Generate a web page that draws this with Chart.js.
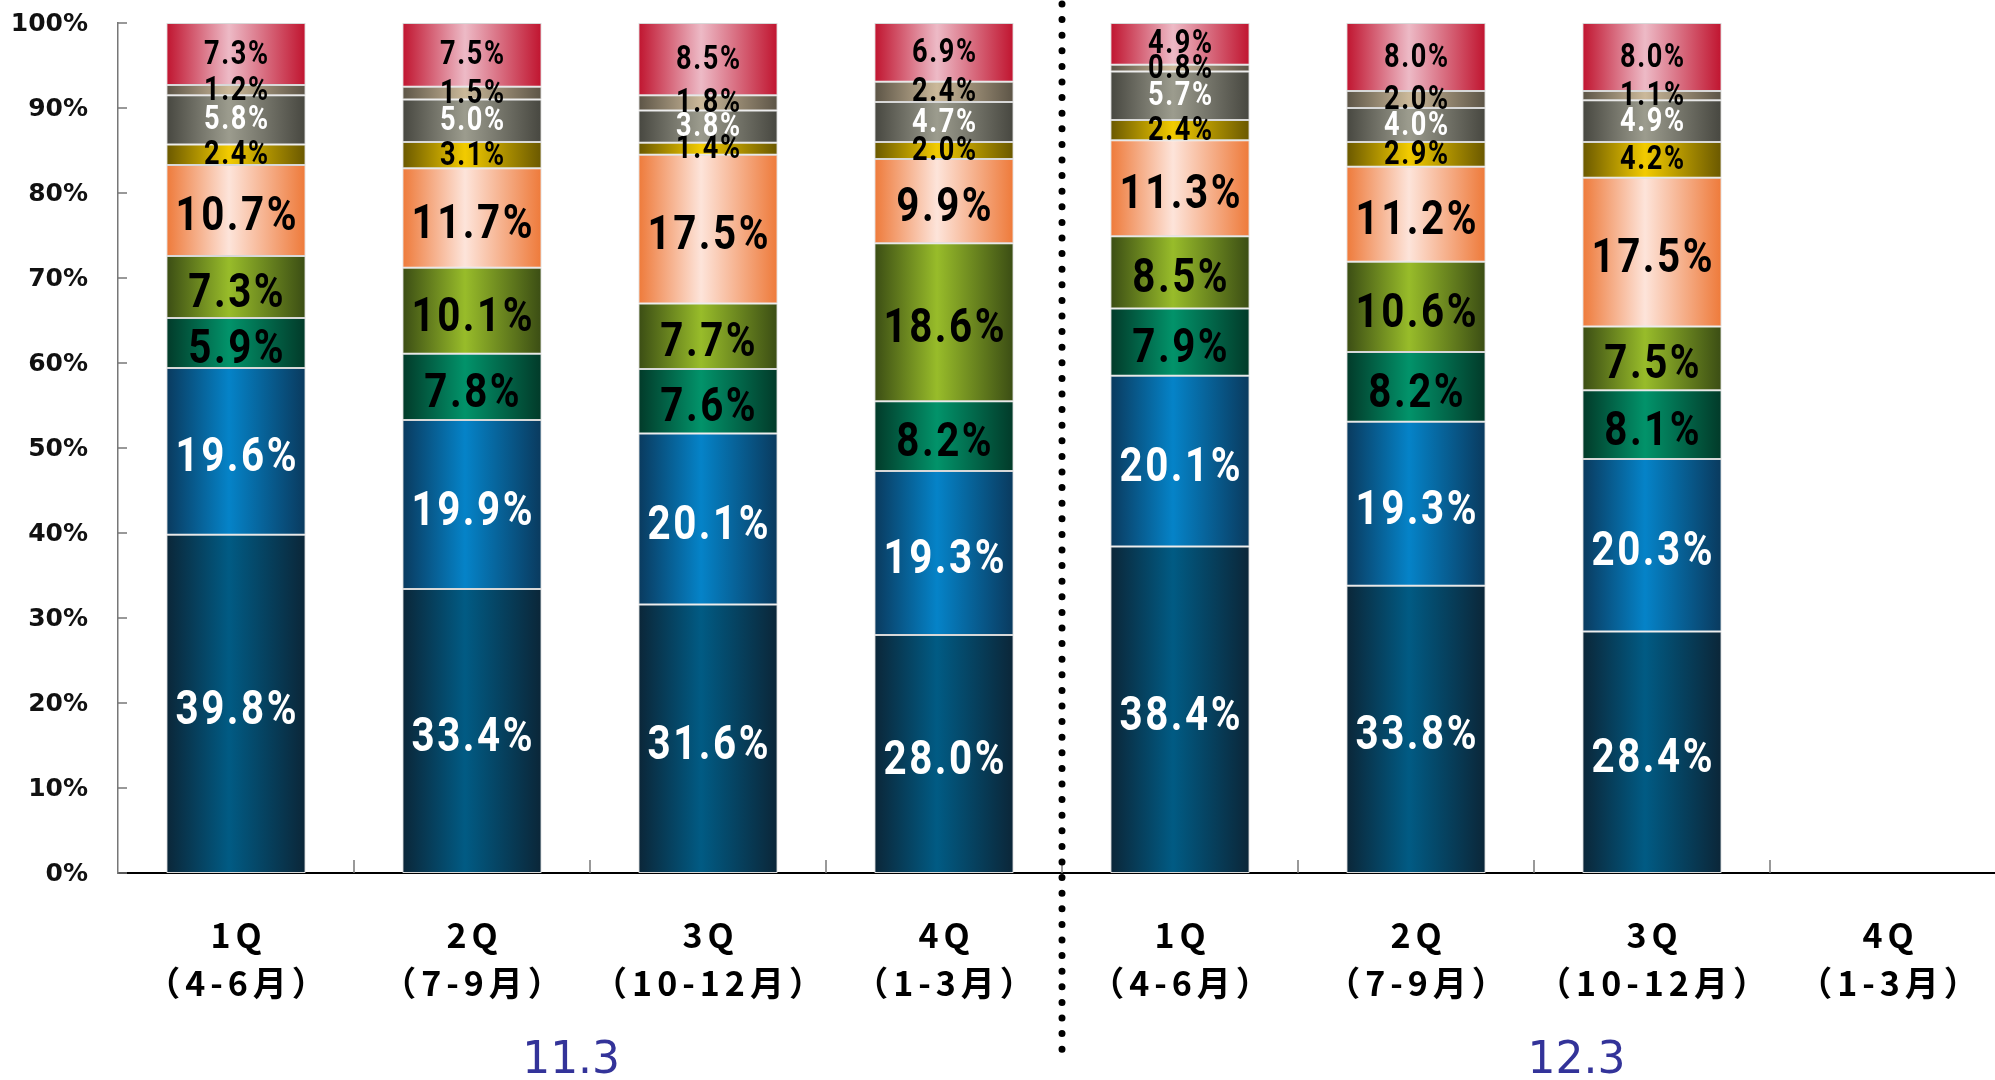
<!DOCTYPE html>
<html>
<head>
<meta charset="utf-8">
<script src="https://cdn.jsdelivr.net/npm/chart.js@4.4.0/dist/chart.umd.min.js"></script>
<style>
  html, body { margin: 0; padding: 0; background: #fff; overflow: hidden; }
  /* the plot runs slightly past the right edge of the window, as in the original */
  #wrap { width: 2006px; height: 1080px; }
</style>
</head>
<body>
<div id="wrap"><canvas id="myChart"></canvas></div>
<script>
// categories (two lines each) and fiscal-year groups
const quarters = [
  ["1Q", "（4-6月）"], ["2Q", "（7-9月）"], ["3Q", "（10-12月）"], ["4Q", "（1-3月）"],
  ["1Q", "（4-6月）"], ["2Q", "（7-9月）"], ["3Q", "（10-12月）"], ["4Q", "（1-3月）"]
];
const groups = ["11.3", "12.3"];
const yTicks = [0, 10, 20, 30, 40, 50, 60, 70, 80, 90, 100];

// series, bottom to top (%)
const navy      = [39.8, 33.4, 31.6, 28.0, 38.4, 33.8, 28.4, null];
const blue      = [19.6, 19.9, 20.1, 19.3, 20.1, 19.3, 20.3, null];
const darkGreen = [5.9, 7.8, 7.6, 8.2, 7.9, 8.2, 8.1, null];
const olive     = [7.3, 10.1, 7.7, 18.6, 8.5, 10.6, 7.5, null];
const orange    = [10.7, 11.7, 17.5, 9.9, 11.3, 11.2, 17.5, null];
const yellow    = [2.4, 3.1, 1.4, 2.0, 2.4, 2.9, 4.2, null];
const gray      = [5.8, 5.0, 3.8, 4.7, 5.7, 4.0, 4.9, null];
const tan       = [1.2, 1.5, 1.8, 2.4, 0.8, 2.0, 1.1, null];
const red       = [7.3, 7.5, 8.5, 6.9, 4.9, 8.0, 8.0, null];

const barPct = 0.59;

// horizontal "cylinder" shading for each bar
function barGradient(edge, mid) {
  return (c) => {
    const chart = c.chart;
    const xs = chart.scales.x;
    if (!chart.chartArea || !xs || c.dataIndex === undefined) return edge;
    const center = xs.getPixelForValue(c.dataIndex);
    const half = xs.width / quarters.length * barPct / 2;
    const g = chart.ctx.createLinearGradient(center - half, 0, center + half, 0);
    g.addColorStop(0, edge);
    g.addColorStop(0.45, mid);
    g.addColorStop(1, edge);
    return g;
  };
}

function makeSet(name, data, edge, mid, textColor, size) {
  return {
    label: name,
    data: data,
    backgroundColor: barGradient(edge, mid),
    borderColor: "#d8d8d8",
    borderWidth: 1,
    borderSkipped: false,
    barPercentage: barPct,
    categoryPercentage: 1,
    textColor: textColor,
    textSize: size,
  };
}

const datasets = [
  makeSet("navy", navy, "#0b2638", "#015b84", "#fff", 48),
  makeSet("blue", blue, "#0a3a5e", "#0583c8", "#fff", 48),
  makeSet("darkGreen", darkGreen, "#023a29", "#02936a", "#000", 48),
  makeSet("olive", olive, "#3b4d14", "#98bc2a", "#000", 48),
  makeSet("orange", orange, "#ee7a3a", "#fde4da", "#000", 48),
  makeSet("yellow", yellow, "#6a5800", "#f2cb00", "#000", 34),
  makeSet("gray", gray, "#474740", "#9c9c8e", "#fff", 34),
  makeSet("tan", tan, "#5c5446", "#cbb99a", "#000", 34),
  makeSet("red", red, "#c0142f", "#edbac6", "#000", 34),
];

// value labels centred in each segment (narrow, spaced digits)
const segLabels = {
  id: "segLabels",
  afterDatasetsDraw(chart) {
    const ctx = chart.ctx;
    chart.data.datasets.forEach((ds, i) => {
      const meta = chart.getDatasetMeta(i);
      const big = ds.textSize > 40;
      meta.data.forEach((bar, j) => {
        const v = ds.data[j];
        if (v == null) return;
        const sp = big ? 3 : 2;
        ctx.save();
        ctx.translate(bar.x, (bar.y + bar.base) / 2 + (big ? 8 : 1));
        ctx.scale(big ? 0.84 : 0.8, 1);
        ctx.font = "bold " + ds.textSize + "px Roboto";
        ctx.letterSpacing = sp + "px";
        ctx.fillStyle = ds.textColor;
        ctx.textAlign = "center";
        ctx.textBaseline = "middle";
        ctx.fillText(v.toFixed(1) + "%", sp / 2, 0);
        ctx.restore();
      });
    });
  },
};

// inward tick marks, axis labels, dotted divider and the year labels
const decor = {
  id: "decor",
  afterDraw(chart) {
    const ctx = chart.ctx;
    const xs = chart.scales.x;
    const ys = chart.scales.y;
    const area = chart.chartArea;
    const cat = xs.width / quarters.length;
    ctx.save();
    ctx.strokeStyle = "#777";
    ctx.lineWidth = 1.5;
    ctx.fillStyle = "#111";
    ctx.font = "bold 25px 'DejaVu Sans'";
    ctx.textAlign = "right";
    ctx.textBaseline = "middle";
    yTicks.forEach((v) => {
      const y = ys.getPixelForValue(v);
      ctx.beginPath();
      ctx.moveTo(area.left, y);
      ctx.lineTo(area.left + 9, y);
      ctx.stroke();
      ctx.fillText(v + "%", area.left - 30, y + 1);
    });
    for (let i = 0; i < quarters.length - 1; i++) {
      const x = xs.getPixelForValue(i) + cat / 2;
      ctx.beginPath();
      ctx.moveTo(x, area.bottom);
      ctx.lineTo(x, area.bottom - 13);
      ctx.stroke();
    }

    // category labels
    ctx.fillStyle = "#000";
    ctx.font = "bold 34px 'Noto Sans CJK JP'";
    ctx.letterSpacing = "5px";
    ctx.textAlign = "center";
    quarters.forEach((q, i) => {
      const x = xs.getPixelForValue(i) + 2.5;
      ctx.fillText(q[0], x, area.bottom + 62);
      ctx.fillText(q[1], x, area.bottom + 110);
    });
    ctx.letterSpacing = "0px";

    // dotted divider between the two years
    const xd = xs.getPixelForValue(3) + cat / 2;
    ctx.strokeStyle = "#000";
    ctx.lineWidth = 7;
    ctx.lineCap = "round";
    ctx.setLineDash([0, 15.6]);
    ctx.beginPath();
    ctx.moveTo(xd, 4);
    ctx.lineTo(xd, 1058);
    ctx.stroke();
    ctx.setLineDash([]);

    ctx.fillStyle = "#333399";
    ctx.font = "44px 'DejaVu Sans'";
    ctx.fillText(groups[0], xs.getPixelForValue(1.42), 1062);
    ctx.fillText(groups[1], xs.getPixelForValue(5.68), 1062);
    ctx.restore();
  },
};

new Chart(document.getElementById("myChart"), {
  type: "bar",
  data: { labels: quarters, datasets: datasets },
  options: {
    responsive: true,
    maintainAspectRatio: false,
    animation: false,
    layout: { padding: { top: 23, right: 0, left: 0, bottom: 0 } },
    scales: {
      x: {
        stacked: true,
        grid: { display: false, drawTicks: false },
        border: { display: true, color: "#000", width: 2 },
        ticks: { display: false },
        afterFit(scale) { scale.height = 207; },
      },
      y: {
        stacked: true,
        min: 0,
        max: 100,
        grid: { display: false, drawTicks: false },
        border: { display: true, color: "#777", width: 1.5 },
        ticks: { display: false, stepSize: 10 },
        afterFit(scale) { scale.width = 118; },
      },
    },
    plugins: {
      legend: { display: false },
      tooltip: { enabled: false },
    },
  },
  plugins: [segLabels, decor],
});
</script>
</body>
</html>
